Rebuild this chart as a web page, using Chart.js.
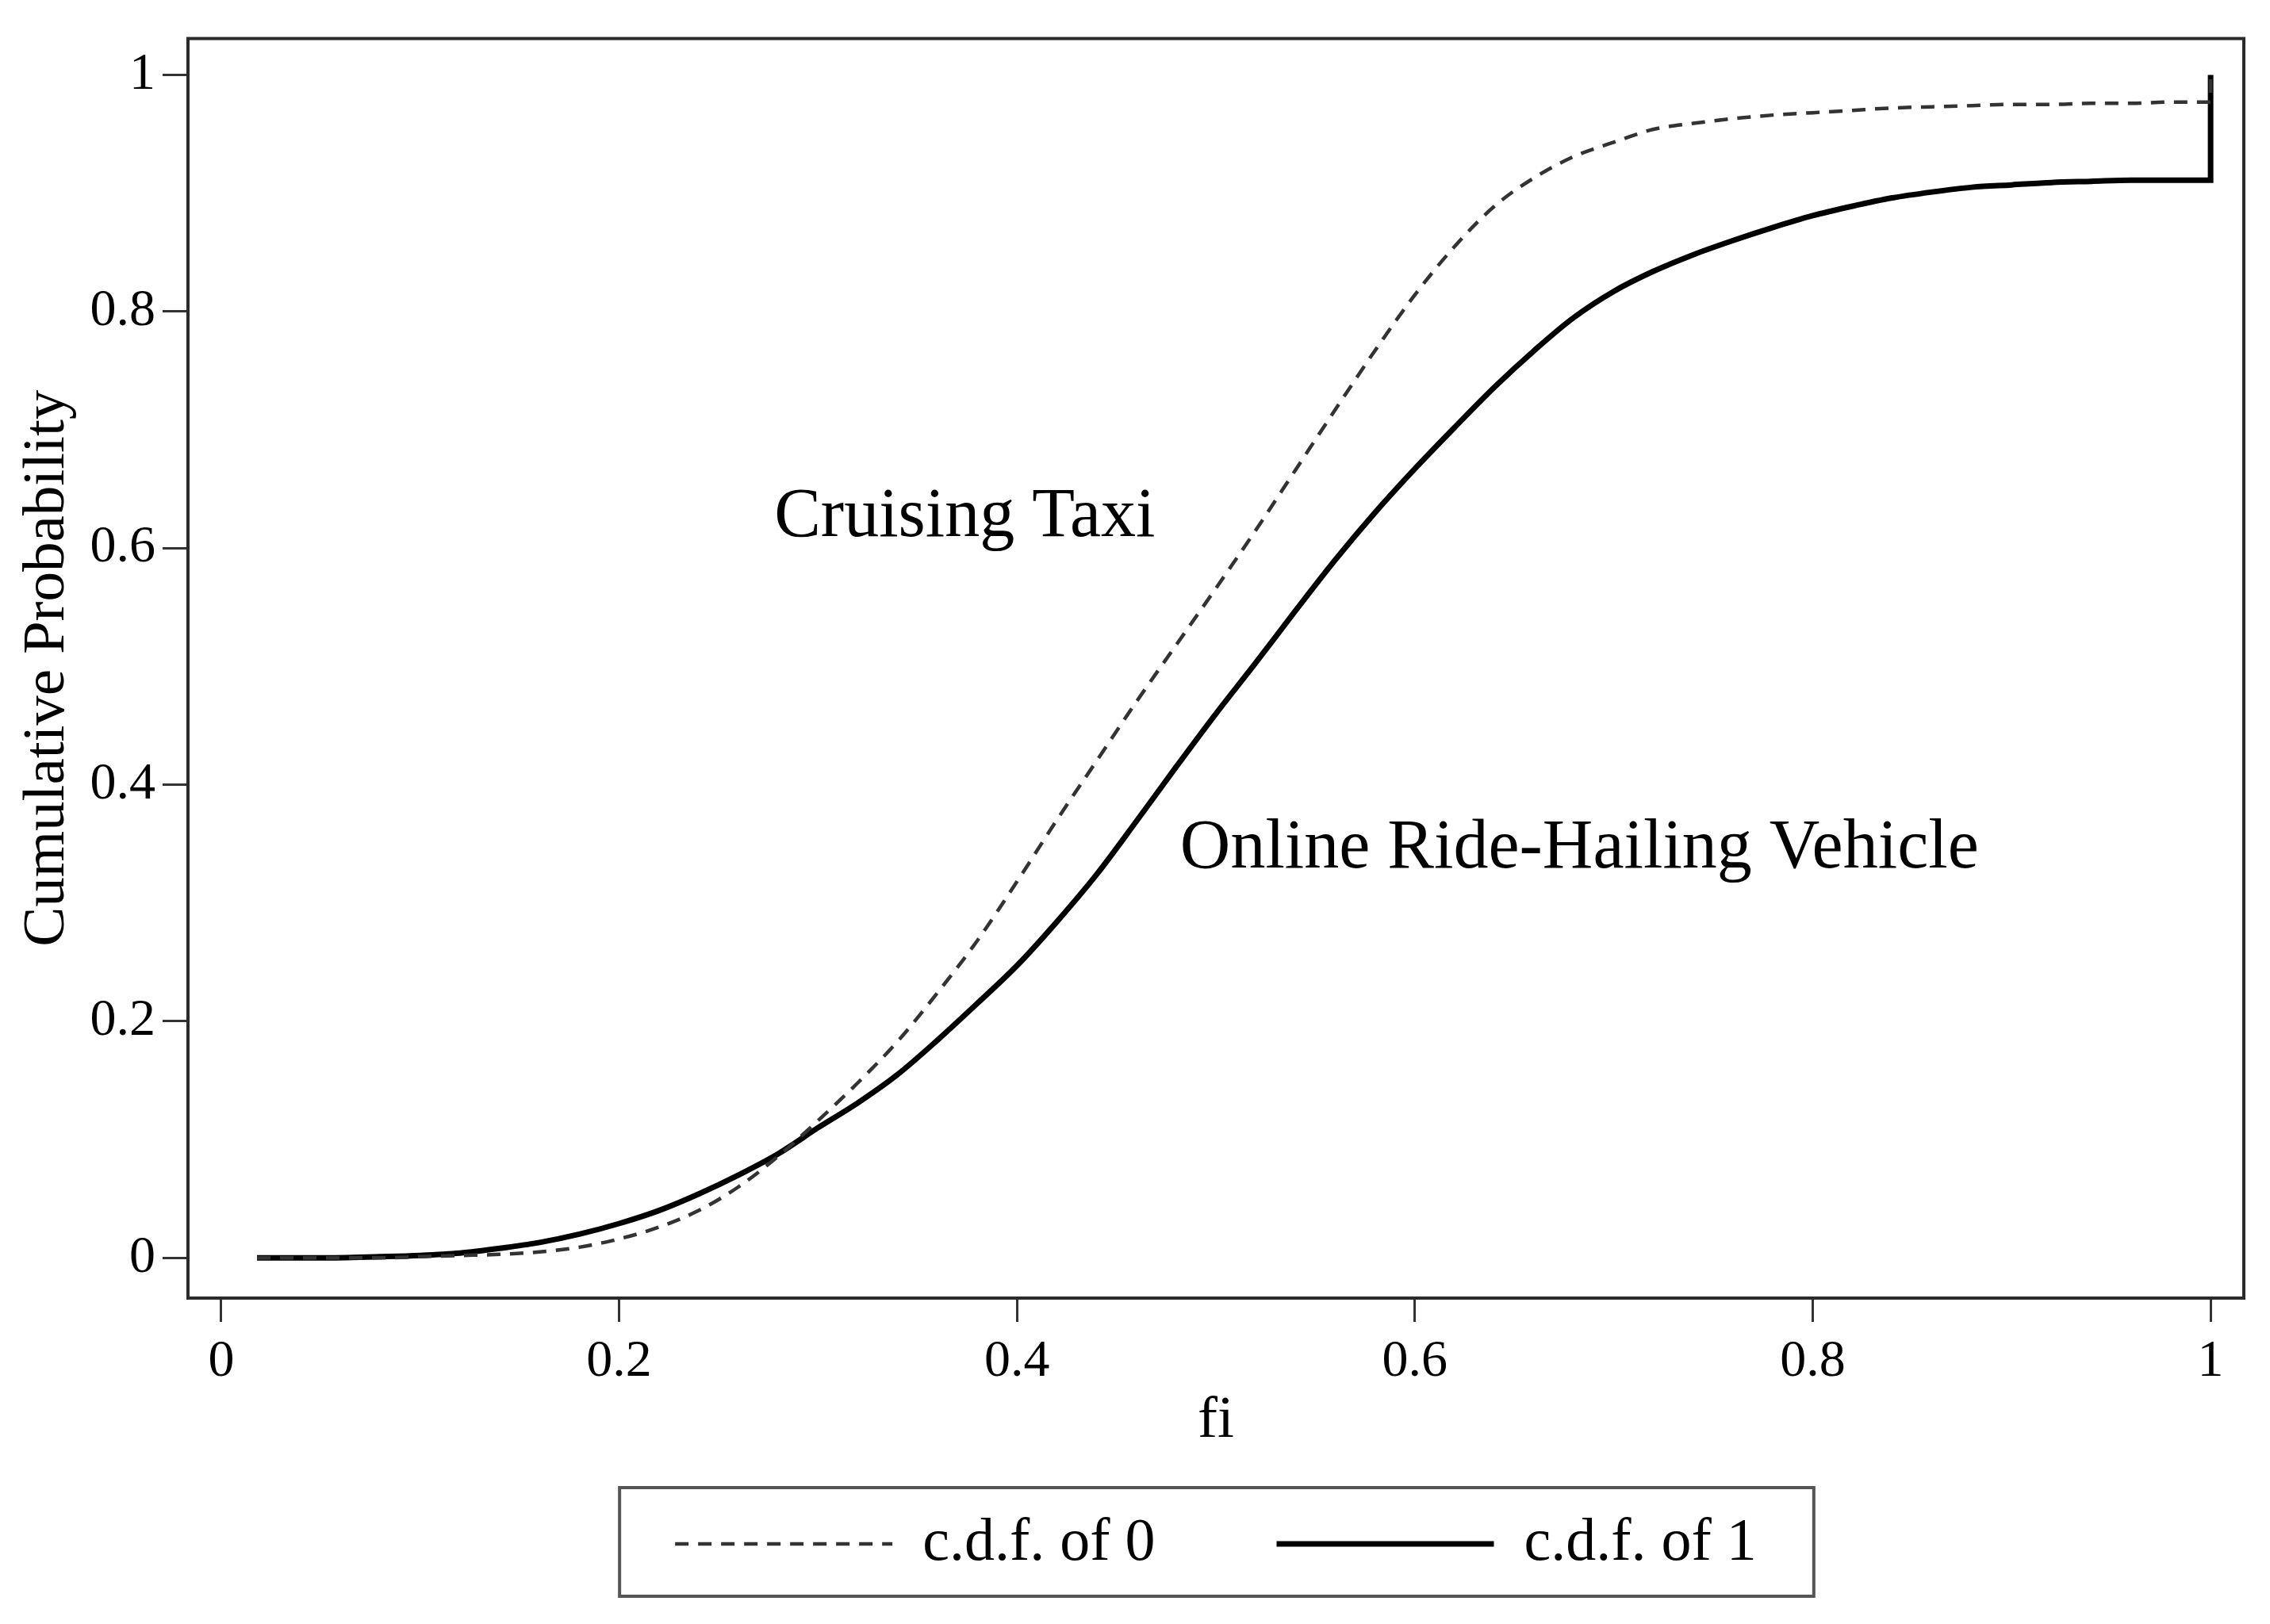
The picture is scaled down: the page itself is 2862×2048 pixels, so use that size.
<!DOCTYPE html>
<html>
<head>
<meta charset="utf-8">
<title>c.d.f. of fi</title>
<script src="https://cdn.jsdelivr.net/npm/chart.js@4.4.1/dist/chart.umd.min.js"></script>
<style>
  html, body { margin: 0; padding: 0; background: #fff; }
  canvas { display: block; }
</style>
</head>
<body>
<canvas id="cdfChart" width="2862" height="2048"></canvas>
<script>
// values
const fi = [0.018, 0.05, 0.08, 0.10, 0.12, 0.14, 0.16, 0.18, 0.20, 0.22, 0.24, 0.26, 0.28, 0.30,
  0.32, 0.34, 0.36, 0.38, 0.40, 0.42, 0.44, 0.46, 0.48, 0.50, 0.52, 0.54, 0.56, 0.58, 0.60,
  0.62, 0.64, 0.66, 0.68, 0.70, 0.72, 0.74, 0.76, 0.78, 0.80, 0.82, 0.84, 0.86, 0.88, 0.90,
  0.92, 0.94, 0.96, 0.98, 1.00, 1.00];
const cdf0 = [0, 0, 0, 0.001, 0.002, 0.003, 0.005, 0.009, 0.016, 0.026, 0.040, 0.060, 0.086, 0.116,
  0.148, 0.183, 0.224, 0.268, 0.318, 0.370, 0.420, 0.470, 0.518, 0.566, 0.615, 0.666, 0.717, 0.767, 0.814,
  0.855, 0.889, 0.913, 0.931, 0.943, 0.954, 0.959, 0.963, 0.966, 0.968, 0.970, 0.972, 0.973, 0.974, 0.975,
  0.975, 0.976, 0.976, 0.977, 0.977, 1.000];
const cdf1 = [0, 0, 0.001, 0.002, 0.004, 0.008, 0.013, 0.020, 0.029, 0.040, 0.054, 0.070, 0.088, 0.110,
  0.131, 0.155, 0.184, 0.215, 0.247, 0.284, 0.324, 0.369, 0.415, 0.460, 0.503, 0.547, 0.590, 0.630, 0.667,
  0.702, 0.736, 0.767, 0.795, 0.817, 0.834, 0.848, 0.860, 0.871, 0.881, 0.889, 0.896, 0.901, 0.905, 0.907,
  0.909, 0.910, 0.911, 0.911, 0.911, 1.000];
const seriesLabels = ['c.d.f. of 0', 'c.d.f. of 1'];
const xTicks = [0, 0.2, 0.4, 0.6, 0.8, 1];
const xTickLabels = ['0', '0.2', '0.4', '0.6', '0.8', '1'];
const yTicks = [0, 0.2, 0.4, 0.6, 0.8, 1];
const yTickLabels = ['0', '0.2', '0.4', '0.6', '0.8', '1'];
const noteText = ['Cruising Taxi', 'Online Ride-Hailing Vehicle'];
const noteX = [0.278, 0.482];
const noteY = [0.610, 0.330];

Chart.defaults.font.family = "'Liberation Serif', 'Times New Roman', serif";
Chart.defaults.color = '#000';

const toPoints = ys => fi.map((x, i) => ({ x: x, y: ys[i] }));

// plot frame + box round the legend
const framePlugin = {
  id: 'frames',
  afterDraw(chart) {
    const { ctx, chartArea: a, legend } = chart;
    ctx.save();
    ctx.strokeStyle = '#2b2b2b';
    ctx.lineWidth = 4;
    ctx.strokeRect(a.left, a.top, a.right - a.left, a.bottom - a.top);
    const boxes = legend.legendHitBoxes;
    if (boxes && boxes.length) {
      const l = Math.min(...boxes.map(b => b.left)) - 70;
      const r = Math.max(...boxes.map(b => b.left + b.width)) + 72;
      const mid = boxes[0].top + boxes[0].height / 2;
      ctx.strokeStyle = '#555';
      ctx.strokeRect(l, mid - 71, r - l, 137);
    }
    ctx.restore();
  }
};

// curve names written inside the plot
const notesPlugin = {
  id: 'notes',
  afterDatasetsDraw(chart) {
    const { ctx, scales } = chart;
    ctx.save();
    ctx.font = "88px 'Liberation Serif', 'Times New Roman', serif";
    ctx.fillStyle = '#000';
    ctx.textAlign = 'left';
    ctx.textBaseline = 'alphabetic';
    noteText.forEach((t, i) => {
      ctx.fillText(t, scales.x.getPixelForValue(noteX[i]), scales.y.getPixelForValue(noteY[i]));
    });
    ctx.restore();
  }
};

new Chart(document.getElementById('cdfChart'), {
  type: 'scatter',
  data: {
    datasets: [
      { label: seriesLabels[0], data: toPoints(cdf0), showLine: true, borderColor: '#333',
        borderWidth: 4.5, borderDash: [17, 12], pointRadius: 0, cubicInterpolationMode: 'monotone' },
      { label: seriesLabels[1], data: toPoints(cdf1), showLine: true, borderColor: '#000',
        borderWidth: 7, pointRadius: 0, cubicInterpolationMode: 'monotone' }
    ]
  },
  options: {
    responsive: false,
    devicePixelRatio: 1,
    animation: false,
    layout: { padding: { left: 0, right: 33, top: 42, bottom: 53 } },
    plugins: {
      tooltip: { enabled: false },
      legend: {
        position: 'bottom',
        fullSize: false,
        labels: {
          usePointStyle: true, pointStyle: 'line', pointStyleWidth: 274, padding: 153,
          font: { size: 76 }, color: '#000',
          generateLabels: chart => Chart.defaults.plugins.legend.labels.generateLabels(chart).map(item => {
            const ds = chart.data.datasets[item.datasetIndex];
            return Object.assign(item, { lineWidth: ds.borderWidth, lineDash: ds.borderDash || [], strokeStyle: ds.borderColor });
          })
        }
      }
    },
    scales: {
      x: {
        type: 'linear', min: -0.0167, max: 1.0167,
        afterBuildTicks: s => { s.ticks = xTicks.map(v => ({ value: v })); },
        afterFit: s => { s.height = 119; },
        grid: { drawOnChartArea: false, tickLength: 30, tickWidth: 3, tickColor: '#333' },
        border: { color: '#2b2b2b', width: 4 },
        ticks: { padding: 11, font: { size: 66 }, color: '#000', maxRotation: 0, autoSkip: false,
          callback: (v, i) => xTickLabels[i] },
        title: { display: true, text: 'fi', font: { size: 75 }, color: '#000', padding: { top: 0, bottom: -81 } }
      },
      y: {
        type: 'linear', min: -0.034, max: 1.0307,
        afterBuildTicks: s => { s.ticks = yTicks.map(v => ({ value: v })); },
        afterFit: s => { s.width = 237; },
        grid: { drawOnChartArea: false, tickLength: 32, tickWidth: 3, tickColor: '#333' },
        border: { color: '#2b2b2b', width: 4 },
        ticks: { padding: 9, font: { size: 66 }, color: '#000', autoSkip: false,
          callback: (v, i) => yTickLabels[i] },
        title: { display: true, text: 'Cumulative Probability', font: { size: 75 }, color: '#000', padding: { top: 15, bottom: 0 } }
      }
    }
  },
  plugins: [framePlugin, notesPlugin]
});
</script>
</body>
</html>
